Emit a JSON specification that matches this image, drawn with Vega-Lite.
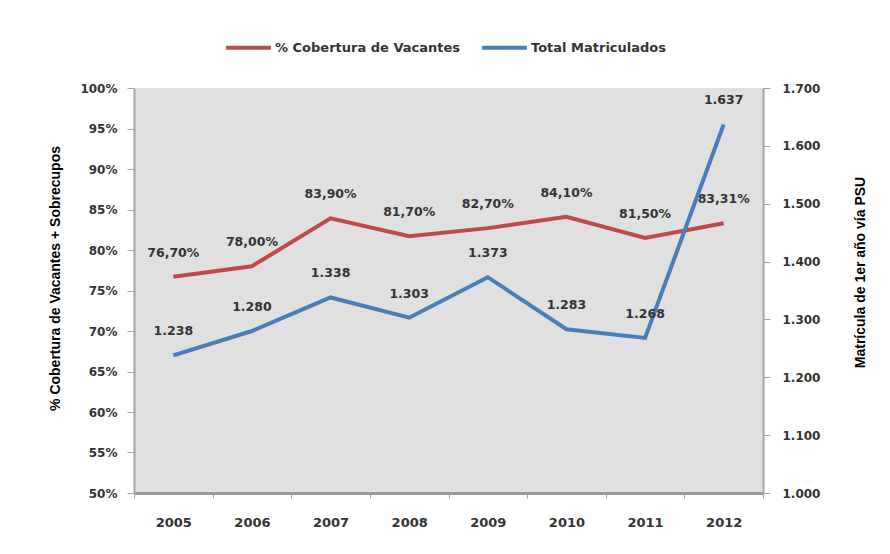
{
  "$schema": "https://vega.github.io/schema/vega-lite/v6.json",
  "autosize": "none",
  "width": 629,
  "height": 405,
  "padding": {"left": 134, "top": 88, "right": 127, "bottom": 61},
  "background": "white",
  "config": {
    "locale": {"number": {"decimal": ",", "thousands": ".", "grouping": [3], "currency": ["$", ""]}},
    "view": {"fill": "#e0e0e0", "stroke": null},
    "axis": {
      "labelFont": "DejaVu Sans", "labelFontWeight": "bold", "labelFontSize": 12, "labelColor": "#333333",
      "titleFont": "Liberation Sans", "titleFontWeight": "bold", "titleFontSize": 14, "titleColor": "#000000",
      "domainColor": "#a6a6a6", "domainWidth": 2, "tickColor": "#a6a6a6", "grid": false
    }
  },
  "data": {"values": [
    {"year": "2005", "cob": 0.767, "mat": 1238},
    {"year": "2006", "cob": 0.780, "mat": 1280},
    {"year": "2007", "cob": 0.839, "mat": 1338},
    {"year": "2008", "cob": 0.817, "mat": 1303},
    {"year": "2009", "cob": 0.827, "mat": 1373},
    {"year": "2010", "cob": 0.841, "mat": 1283},
    {"year": "2011", "cob": 0.815, "mat": 1268},
    {"year": "2012", "cob": 0.8331, "mat": 1637}
  ]},
  "encoding": {
    "x": {
      "field": "year", "type": "ordinal", "bandPosition": 0.5,
      "scale": {"type": "band", "paddingInner": 0, "paddingOuter": 0},
      "axis": {"title": null, "labelAngle": 0, "labelFontSize": 13, "tickBand": "extent", "tickSize": 5, "labelPadding": 18, "domainWidth": 3, "domainColor": "#999999"}
    }
  },
  "layer": [
    {
      "encoding": {
        "y": {
          "field": "cob", "type": "quantitative",
          "scale": {"domain": [0.5, 1], "nice": false, "zero": false},
          "axis": {"orient": "left", "format": ".0%", "values": [0.5, 0.55, 0.6, 0.65, 0.7, 0.75, 0.8, 0.85, 0.9, 0.95, 1.0], "tickSize": 7, "labelPadding": 10,
                   "title": "% Cobertura de Vacantes + Sobrecupos", "titleX": -79, "titleY": 190, "titleAngle": -90, "titleBaseline": "middle", "titleAlign": "center"}
        }
      },
      "layer": [
        {"mark": {"type": "line", "strokeWidth": 4},
         "encoding": {"color": {"datum": "% Cobertura de Vacantes", "type": "nominal",
           "scale": {"domain": ["% Cobertura de Vacantes", "Total Matriculados"], "range": ["#be4b48", "#4a7ebb"]},
           "legend": {"orient": "none", "legendX": 90, "legendY": -65, "direction": "horizontal", "title": null,
             "symbolType": "stroke", "symbolSize": 2000, "symbolStrokeWidth": 4, "labelFont": "DejaVu Sans", "labelFontWeight": "bold",
             "labelFontSize": 13, "labelColor": "#333333", "labelLimit": 0, "columnPadding": 13, "labelOffset": 2}}}},
        {"mark": {"type": "text", "dy": -24, "font": "DejaVu Sans", "fontWeight": "bold", "fontSize": 12.5, "color": "#333333"},
         "encoding": {"text": {"field": "cob", "type": "quantitative", "format": ".2%"}}}
      ]
    },
    {
      "encoding": {
        "y": {
          "field": "mat", "type": "quantitative",
          "scale": {"domain": [1000, 1700], "nice": false, "zero": false},
          "axis": {"orient": "right", "format": ",.0f", "values": [1000, 1100, 1200, 1300, 1400, 1500, 1600, 1700], "tickSize": 7, "labelPadding": 12,
                   "title": "Matrícula de 1er año vía PSU", "titleX": 97, "titleY": 184, "titleAngle": -90, "titleBaseline": "middle", "titleAlign": "center"}
        }
      },
      "layer": [
        {"mark": {"type": "line", "strokeWidth": 4},
         "encoding": {"color": {"datum": "Total Matriculados", "type": "nominal"}}},
        {"mark": {"type": "text", "dy": -24, "font": "DejaVu Sans", "fontWeight": "bold", "fontSize": 12.5, "color": "#333333"},
         "encoding": {"text": {"field": "mat", "type": "quantitative", "format": ",.0f"}}}
      ]
    }
  ],
  "resolve": {"scale": {"y": "independent"}}
}
